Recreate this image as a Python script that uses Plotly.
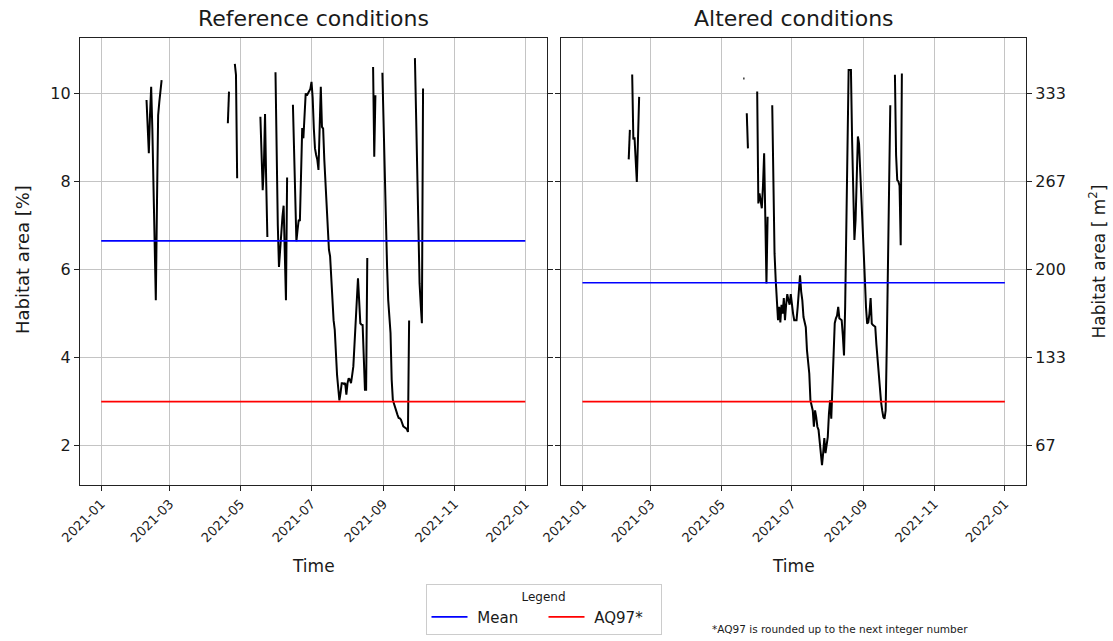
import pandas as pd
import plotly.graph_objects as go

# ---------------- data ----------------
# Reference conditions: habitat area [%] (daily values, gaps between segments)
ref_seg_starts = ["2021-02-09", "2021-04-20", "2021-04-26", "2021-05-18",
                  "2021-05-31", "2021-06-15", "2021-08-23", "2021-08-31", "2021-09-28"]
ref_seg_values = [
    [9.85, 9.2, 8.64, 9.5, 10.15, 9.2, 7.9, 6.6, 5.3, 7.5, 9.5, 9.8, 10.05, 10.3],
    [9.32, 10.04],
    [10.67, 10.42, 8.07],
    [9.47, 8.6, 7.8, 8.33, 9.53, 8.0, 6.74],
    [10.48, 8.5, 7.0, 6.06, 6.5, 7.0, 7.2, 7.45, 6.3, 5.3, 8.09],
    [9.74, 8.7, 7.7, 6.64, 6.9, 7.13, 7.1, 8.2, 9.21, 8.98, 9.5, 10.0, 9.95, 10.0,
     10.04, 10.1, 10.26, 9.9, 9.2, 8.75, 8.6, 8.49, 8.26, 9.3, 10.15, 9.24, 9.2, 8.5,
     7.9, 7.35, 6.9, 6.45, 6.3, 5.7, 5.09, 4.85, 4.63, 3.9, 3.6, 3.31, 3.03, 3.2,
     3.42, 3.42, 3.4, 3.42, 3.16, 3.42, 3.53, 3.5, 3.42, 3.6, 3.8, 4.3, 4.8, 5.3,
     5.8, 5.3, 4.78, 4.75, 4.74, 4.0, 3.27, 3.27, 6.26],
    [10.6, 8.56, 9.96],
    [10.47, 9.2, 8.03, 7.1, 6.1, 5.31, 4.9, 4.56, 3.5, 3.04, 2.95, 2.85, 2.74, 2.7,
     2.63, 2.62, 2.59, 2.5, 2.44, 2.42, 2.4, 2.38, 2.31, 4.84],
    [10.8, 9.5, 8.2, 6.9, 5.69, 5.2, 4.78, 10.11],
]

# Altered conditions: habitat area [%]
alt_seg_starts = ["2021-02-10", "2021-02-13", "2021-05-20", "2021-05-23",
                  "2021-06-01", "2021-06-14", "2021-09-28"]
alt_seg_values = [
    [8.5, 9.17],
    [10.43, 8.95, 9.0, 8.3, 7.99, 8.95, 9.92],
    [10.34, 10.34],
    [9.55, 8.75],
    [10.04, 7.5, 7.73, 7.6, 7.39, 7.9, 8.64, 7.2, 5.68, 7.2],
    [9.73, 8.0, 6.36, 5.76, 5.1, 4.85, 5.15, 4.8, 5.2, 5.0, 5.35, 4.85, 5.2, 5.44,
     5.3, 5.2, 5.44, 5.15, 5.0, 4.85, 4.85, 4.85, 5.15, 5.5, 5.87, 5.5, 5.3, 4.92,
     4.8, 4.69, 4.17, 3.9, 3.64, 3.03, 2.9, 2.8, 2.43, 2.8, 2.65, 2.43, 2.36, 2.1,
     1.9, 1.56, 1.83, 2.17, 1.83, 2.0, 2.2, 2.73, 3.03, 2.61, 3.26, 4.0, 4.78, 4.89,
     4.95, 5.15, 4.89, 4.87, 4.85, 4.5, 4.05, 5.15, 7.42, 9.0, 10.53, 10.53, 10.53,
     8.94, 7.8, 6.67, 7.12, 8.0, 9.02, 8.86, 8.3, 7.8, 7.2, 6.52, 5.8, 5.15, 4.77,
     4.8, 5.0, 5.35, 4.77, 4.74, 4.72, 4.7, 4.3, 3.94, 3.6, 3.26, 3.0, 2.8, 2.65,
     2.61, 2.8, 4.32, 6.21, 8.0, 9.73],
    [10.42, 8.6, 8.03, 8.0, 7.9, 6.55, 10.45],
]

ref_mean = 6.65
alt_mean = 5.70
aq97 = 3.0
line_period = ["2021-01-01", "2022-01-01"]

tick_dates = ["2021-01-01", "2021-03-01", "2021-05-01", "2021-07-01",
              "2021-09-01", "2021-11-01", "2022-01-01"]
y_tickvals = [2, 4, 6, 8, 10]
y2_ticktext = ["67", "133", "200", "267", "333"]


def build_series(starts, values):
    xs, ys = [], []
    for s, vals in zip(starts, values):
        dates = pd.date_range(s, periods=len(vals), freq="D")
        xs.extend(list(dates))
        ys.extend(vals)
        xs.append(None)
        ys.append(None)
    return xs, ys


W, H = 1113, 641
FONT = "DejaVu Sans"
TXT = "#1a1a1a"
NB = "\u00a0"

fig = go.Figure()

for xa, ya, starts, vals, mean in [("x", "y", ref_seg_starts, ref_seg_values, ref_mean),
                                   ("x2", "y2", alt_seg_starts, alt_seg_values, alt_mean)]:
    xs, ys = build_series(starts, vals)
    fig.add_trace(go.Scatter(x=xs, y=ys, mode="lines", xaxis=xa, yaxis=ya,
                             line=dict(color="black", width=2), connectgaps=False,
                             showlegend=False))
    fig.add_trace(go.Scatter(x=line_period, y=[mean, mean], mode="lines", xaxis=xa, yaxis=ya,
                             line=dict(color="#0000ff", width=1.6), name=NB + "Mean",
                             showlegend=(xa == "x"), legendrank=1))
    fig.add_trace(go.Scatter(x=line_period, y=[aq97, aq97], mode="lines", xaxis=xa, yaxis=ya,
                             line=dict(color="#ff0000", width=1.6), name=NB + "AQ97*",
                             showlegend=(xa == "x"), legendrank=2))

xl = [80 / W, 546.5 / W]
xr = [561.3 / W, 1026 / W]
yd = [1 - 485 / H, 1 - 38.3 / H]
xrange = ["2020-12-13 18:00", "2022-01-19 06:00"]
yrange = [1.107, 11.25]

common_x = dict(range=xrange, tickvals=tick_dates, tickformat="%Y-%m", tickangle=-45,
                showgrid=True, gridcolor="#c4c4c4", gridwidth=1, automargin=False,
                showline=True, linecolor="#222222", linewidth=1.2, mirror=True,
                ticks="outside", ticklen=5, tickcolor="#222222",
                tickfont=dict(family=FONT, size=13, color=TXT), zeroline=False)
common_y = dict(range=yrange, tickvals=y_tickvals, showgrid=True, gridcolor="#c4c4c4",
                gridwidth=1, showline=True, linecolor="#222222", linewidth=1.2,
                mirror="ticks", ticks="outside", ticklen=5, tickcolor="#222222",
                automargin=False,
                tickfont=dict(family=FONT, size=16, color=TXT), zeroline=False)

fig.update_layout(
    width=W, height=H, autosize=False,
    margin=dict(l=0, r=0, t=0, b=0, autoexpand=False),
    paper_bgcolor="white", plot_bgcolor="white",
    font=dict(family=FONT, color=TXT),
    xaxis=dict(domain=xl, anchor="y", **common_x),
    xaxis2=dict(domain=xr, anchor="y2", **common_x),
    yaxis=dict(domain=yd, anchor="x", ticktext=[str(v) for v in y_tickvals], **common_y),
    yaxis2=dict(domain=yd, anchor="x2", side="right", ticktext=y2_ticktext, **common_y),
    legend=dict(orientation="h", x=543.5 / W, xanchor="center", y=1 - 584 / H, yanchor="top",
                bordercolor="#cccccc", borderwidth=1, bgcolor="white",
                font=dict(family=FONT, size=15, color=TXT),
                title=dict(text="Legend", side="top center",
                           font=dict(family=FONT, size=12, color=TXT)),
                itemwidth=36, entrywidth=66, tracegroupgap=0),
)

annots = [
    dict(text="Reference conditions", x=313.2 / W, y=1 - 18 / H, size=22),
    dict(text="Altered conditions", x=793.6 / W, y=1 - 18 / H, size=22),
    dict(text="Time", x=313.2 / W, y=1 - 566 / H, size=17),
    dict(text="Time", x=793.6 / W, y=1 - 566 / H, size=17),
]
for a in annots:
    fig.add_annotation(text=a["text"], x=a["x"], y=a["y"], xref="paper", yref="paper",
                       xanchor="center", yanchor="middle", showarrow=False,
                       font=dict(family=FONT, size=a["size"], color=TXT))

fig.add_annotation(text="Habitat area [%]", x=22 / W, y=1 - 260 / H, xref="paper", yref="paper",
                   textangle=-90, showarrow=False, xanchor="center", yanchor="middle",
                   font=dict(family=FONT, size=18, color=TXT))
fig.add_annotation(text="Habitat area [ m<sup>2</sup>]", x=1097 / W, y=1 - 261.5 / H,
                   xref="paper", yref="paper", textangle=-90, showarrow=False,
                   xanchor="center", yanchor="middle",
                   font=dict(family=FONT, size=17, color=TXT))
fig.add_annotation(text="*AQ97 is rounded up to the next integer number", x=710 / W, y=1 - 629 / H,
                   xref="paper", yref="paper", xanchor="left", yanchor="middle", showarrow=False,
                   font=dict(family=FONT, size=10.5, color=TXT))

fig.write_html("out.html")
